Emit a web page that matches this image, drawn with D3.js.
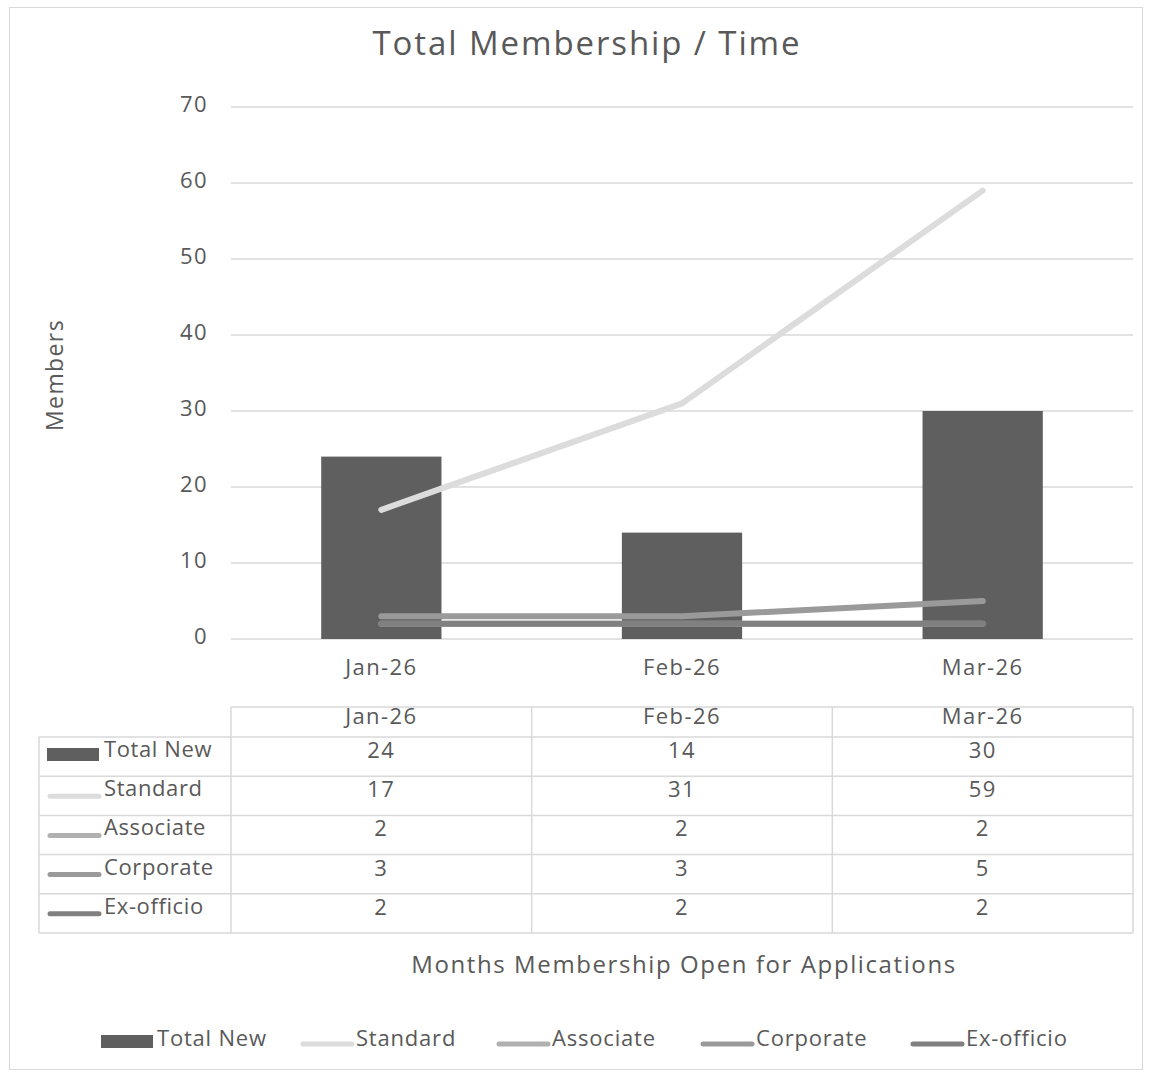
<!DOCTYPE html>
<html>
<head>
<meta charset="utf-8">
<title>Total Membership / Time</title>
<script src="https://cdn.jsdelivr.net/npm/d3@7"></script>
<style>
  body { margin: 0; background: #fff; }
  svg { font-family: "Open Sans", sans-serif; font-variant-ligatures: none; letter-spacing: 1.4px; }
</style>
</head>
<body>
<div id="chart"></div>
<script>
// chart data
var months = ["Jan-26", "Feb-26", "Mar-26"];
var totalNew = [24, 14, 30];
var standard = [17, 31, 59];
var associate = [2, 2, 2];
var corporate = [3, 3, 5];
var exOfficio = [2, 2, 2];
var yTicks = [0, 10, 20, 30, 40, 50, 60, 70];

var seriesNames = ["Total New", "Standard", "Associate", "Corporate", "Ex-officio"];
var seriesColors = ["#5f5f5f", "#dcdcdc", "#b0b0b0", "#9a9a9a", "#808080"];
var seriesValues = [totalNew, standard, associate, corporate, exOfficio];

var width = 1151, height = 1074;
// plot area edges (note: "top" is reserved on window, so use plotTop)
var plotLeft = 231, plotRight = 1133, plotTop = 107, plotBottom = 639;
var textColor = "#595959";

var svg = d3.select("#chart").append("svg")
    .attr("width", width)
    .attr("height", height);

// outer chart border
svg.append("rect")
    .attr("x", 9.5).attr("y", 7.5)
    .attr("width", 1133).attr("height", 1062)
    .attr("fill", "#fff").attr("stroke", "#d9d9d9");

var x = d3.scaleBand().domain(months).range([plotLeft, plotRight]);
var y = d3.scaleLinear().domain([0, 70]).range([plotBottom, plotTop]);

// gridlines
svg.append("g")
    .selectAll("line")
    .data(yTicks)
    .enter().append("line")
    .attr("x1", plotLeft).attr("x2", plotRight)
    .attr("y1", function(d) { return y(d); })
    .attr("y2", function(d) { return y(d); })
    .attr("stroke", "#d9d9d9").attr("stroke-width", 1.5);

// y axis labels
var yAxis = svg.append("g")
    .attr("transform", "translate(" + (plotLeft - 10) + ",0)")
    .call(d3.axisLeft(y).tickValues(yTicks).tickSize(0).tickPadding(13));
yAxis.select(".domain").remove();
yAxis.selectAll("text")
    .attr("fill", textColor).style("font-size", "22px")
    .style("font-family", "'Open Sans', sans-serif").attr("dy", "0.22em");

// x axis labels
var xAxis = svg.append("g")
    .attr("transform", "translate(0," + plotBottom + ")")
    .call(d3.axisBottom(x).tickSize(0).tickPadding(15));
xAxis.select(".domain").remove();
xAxis.selectAll("text")
    .attr("fill", textColor).style("font-size", "22px")
    .style("font-family", "'Open Sans', sans-serif").attr("dy", "0.95em");

// bars for total new
var barW = x.bandwidth() * 0.4;
svg.append("g")
    .selectAll("rect")
    .data(totalNew)
    .enter().append("rect")
    .attr("x", function(d, i) { return x(months[i]) + (x.bandwidth() - barW) / 2; })
    .attr("y", function(d) { return y(d); })
    .attr("width", barW)
    .attr("height", function(d) { return y(0) - y(d); })
    .attr("fill", seriesColors[0]);

// lines for the other series
var line = d3.line()
    .x(function(d, i) { return x(months[i]) + x.bandwidth() / 2; })
    .y(function(d) { return y(d); });

for (var s = 1; s < seriesValues.length; s++) {
    svg.append("path")
        .datum(seriesValues[s])
        .attr("d", line)
        .attr("fill", "none")
        .attr("stroke", seriesColors[s])
        .attr("stroke-width", 6)
        .attr("stroke-linecap", "round")
        .attr("stroke-linejoin", "round");
}

// title
svg.append("text")
    .attr("x", 587).attr("y", 55)
    .attr("text-anchor", "middle")
    .attr("fill", textColor)
    .style("font-size", "33px")
    .style("letter-spacing", "1.9px")
    .text("Total Membership / Time");

// y axis title
svg.append("text")
    .attr("transform", "translate(63,375) rotate(-90)")
    .attr("text-anchor", "middle")
    .attr("fill", textColor)
    .style("font-size", "23px")
    .text("Members");

// data table
var tableTop = 707, rowH = 39.2, headH = 30, tableLeft = 39;
var grid = svg.append("g").attr("stroke", "#d9d9d9").attr("stroke-width", 1.5);
var tableBottom = tableTop + headH + rowH * seriesNames.length;

// header top line
grid.append("line").attr("x1", plotLeft).attr("x2", plotRight)
    .attr("y1", tableTop).attr("y2", tableTop);
// row lines
for (var r = 0; r <= seriesNames.length; r++) {
    var ry = tableTop + headH + r * rowH;
    grid.append("line").attr("x1", tableLeft).attr("x2", plotRight)
        .attr("y1", ry).attr("y2", ry);
}
// column lines
grid.append("line").attr("x1", tableLeft).attr("x2", tableLeft)
    .attr("y1", tableTop + headH).attr("y2", tableBottom);
var colEdges = months.map(function(m) { return x(m); }).concat([plotRight]);
colEdges.forEach(function(cx) {
    grid.append("line").attr("x1", cx).attr("x2", cx)
        .attr("y1", tableTop).attr("y2", tableBottom);
});

// header labels
svg.append("g").selectAll("text")
    .data(months)
    .enter().append("text")
    .attr("x", function(d) { return x(d) + x.bandwidth() / 2; })
    .attr("y", tableTop + 17)
    .attr("text-anchor", "middle")
    .attr("fill", textColor)
    .style("font-size", "22px")
    .text(function(d) { return d; });

// legend key helper
function drawKey(g, i, kx, ky) {
    if (i === 0) {
        g.append("rect").attr("x", kx).attr("y", ky - 6)
            .attr("width", 52).attr("height", 13)
            .attr("fill", seriesColors[0]);
    } else {
        g.append("line").attr("x1", kx + 3).attr("x2", kx + 52)
            .attr("y1", ky + 3).attr("y2", ky + 3)
            .attr("stroke", seriesColors[i]).attr("stroke-width", 5)
            .attr("stroke-linecap", "round");
    }
}

// table rows
seriesNames.forEach(function(name, i) {
    var rowTop = tableTop + headH + i * rowH;
    var g = svg.append("g");
    drawKey(g, i, 47, rowTop + 17);
    g.append("text")
        .attr("x", 104).attr("y", rowTop + 20)
        .attr("fill", textColor)
        .style("font-size", "22px")
        .style("letter-spacing", "0.6px")
        .text(name);
    seriesValues[i].forEach(function(v, j) {
        g.append("text")
            .attr("x", x(months[j]) + x.bandwidth() / 2)
            .attr("y", rowTop + 21)
            .attr("text-anchor", "middle")
            .attr("fill", textColor)
            .style("font-size", "22px")
            .text(v);
    });
});

// x axis title
svg.append("text")
    .attr("x", 684).attr("y", 973)
    .attr("text-anchor", "middle")
    .attr("fill", textColor)
    .style("font-size", "24px")
    .style("letter-spacing", "1.6px")
    .text("Months Membership Open for Applications");

// bottom legend
var legendX = [101, 300, 496, 700, 910];
seriesNames.forEach(function(name, i) {
    var g = svg.append("g");
    drawKey(g, i, legendX[i], 1041);
    g.append("text")
        .attr("x", legendX[i] + 56).attr("y", 1046)
        .attr("fill", textColor)
        .style("font-size", "22px")
        .style("letter-spacing", "0.8px")
        .text(name);
});
</script>
</body>
</html>
